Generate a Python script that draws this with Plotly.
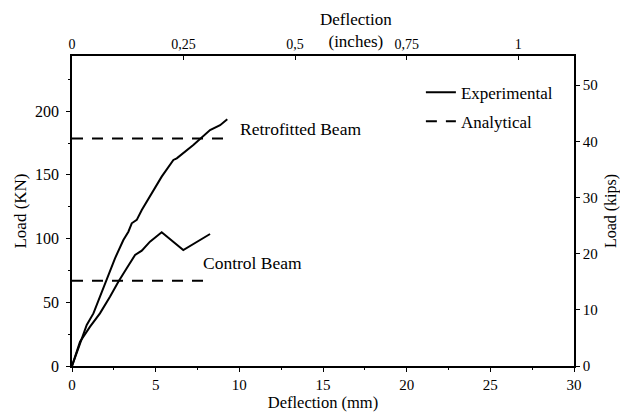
import plotly.graph_objects as go

# ---- data ----
retro_x = [0, 0.48, 0.88, 1.28, 1.67, 1.87, 2.27, 2.57, 3.07, 3.37, 3.57, 3.87, 4.17, 4.66, 5.06, 5.36, 6.06, 6.26, 7.25, 7.65, 8.25, 8.85, 9.28]
retro_y = [0, 17.8, 32.2, 41.3, 54.4, 61, 75.3, 84.5, 98.9, 105.4, 112, 114.7, 122.4, 133, 142, 148.6, 161.7, 163, 173.5, 178.2, 185.2, 189, 193.6]

control_x = [0, 0.48, 1.08, 1.67, 2.27, 2.77, 3.27, 3.77, 4.17, 4.66, 5.36, 6.65, 8.25]
control_y = [0, 19, 30.9, 41.3, 54.4, 66.2, 76.7, 87.1, 90.5, 97.6, 104.9, 91, 103.6]

retro_analytical_x = [0, 9.34]
retro_analytical_y = [178.5, 178.5]
control_analytical_x = [0, 8.0]
control_analytical_y = [67, 67]

x_ticks_mm = [0, 5, 10, 15, 20, 25, 30]
y_ticks_kn = [0, 50, 100, 150, 200]
y_ticks_kips = [0, 10, 20, 30, 40, 50]
x_ticks_in = [0, 0.25, 0.5, 0.75, 1]
x_ticklabels_in = ["0", "0,25", "0,5", "0,75", "1"]

FONT = "Liberation Serif"
DASH = "11px,9px"
LW = 2

fig = go.Figure()
fig.add_trace(go.Scatter(x=retro_x, y=retro_y, mode="lines", name="Experimental",
                         line=dict(color="black", width=LW), legendgroup="a"))
fig.add_trace(go.Scatter(x=control_x, y=control_y, mode="lines", showlegend=False,
                         line=dict(color="black", width=LW), legendgroup="a"))
fig.add_trace(go.Scatter(x=retro_analytical_x, y=retro_analytical_y, mode="lines", name="Analytical",
                         line=dict(color="black", width=LW, dash=DASH), legendgroup="b"))
fig.add_trace(go.Scatter(x=control_analytical_x, y=control_analytical_y, mode="lines", showlegend=False,
                         line=dict(color="black", width=LW, dash=DASH), legendgroup="b"))
# invisible trace to activate secondary axes
fig.add_trace(go.Scatter(x=[0], y=[0], xaxis="x2", yaxis="y2", mode="markers",
                         marker=dict(opacity=0), showlegend=False, hoverinfo="skip"))


def axis_style(size, ticks="outside"):
    return dict(showgrid=False, zeroline=False, showline=True, linecolor="black", linewidth=1.5,
                ticks=ticks, tickcolor="black", ticklen=4, tickwidth=1, automargin=False,
                tickfont=dict(family=FONT, size=size, color="black"))


fig.update_layout(
    width=620, height=417,
    margin=dict(l=72, r=46, t=56, b=51),
    paper_bgcolor="white", plot_bgcolor="white",
    font=dict(family=FONT, color="black", size=15),
    xaxis=dict(range=[0, 30], tickvals=x_ticks_mm, **axis_style(15),
               title=dict(text="Deflection (mm)", font=dict(family=FONT, size=16.5), standoff=4),
               minor=dict(ticks="outside", ticklen=2, dtick=2.5, tickcolor="black")),
    yaxis=dict(range=[0, 243.3], tickvals=y_ticks_kn, **axis_style(16), ticklabelstandoff=4,
               title=dict(text="Load (KN)", font=dict(family=FONT, size=17), standoff=4),
               minor=dict(ticks="outside", ticklen=2, dtick=25, tickcolor="black")),
    xaxis2=dict(range=[0, 1.125], tickvals=x_ticks_in, ticktext=x_ticklabels_in,
                overlaying="x", side="top", **axis_style(14, ticks="inside")),
    yaxis2=dict(range=[0, 55.2], tickvals=y_ticks_kips, overlaying="y", side="right",
                **axis_style(15),
                title=dict(text="Load (kips)", font=dict(family=FONT, size=16), standoff=10)),
    legend=dict(x=0.695, y=0.94, xanchor="left", yanchor="top", bgcolor="rgba(0,0,0,0)",
                font=dict(family=FONT, size=17, color="black"), traceorder="grouped",
                tracegroupgap=4),
    showlegend=True,
    annotations=[
        dict(x=9.94, y=186, xref="x", yref="y", text="Retrofitted Beam", showarrow=False,
             xanchor="left", yanchor="middle", font=dict(family=FONT, size=17.5, color="black")),
        dict(x=7.69, y=81, xref="x", yref="y", text="Control Beam", showarrow=False,
             xanchor="left", yanchor="middle", font=dict(family=FONT, size=17.5, color="black")),
        dict(x=0.566, y=1, xref="paper", yref="paper", text="Deflection<br>(inches)", showarrow=False,
             xanchor="center", yanchor="bottom", yshift=3,
             font=dict(family=FONT, size=17, color="black")),
    ],
)

fig.write_html("out.html")
